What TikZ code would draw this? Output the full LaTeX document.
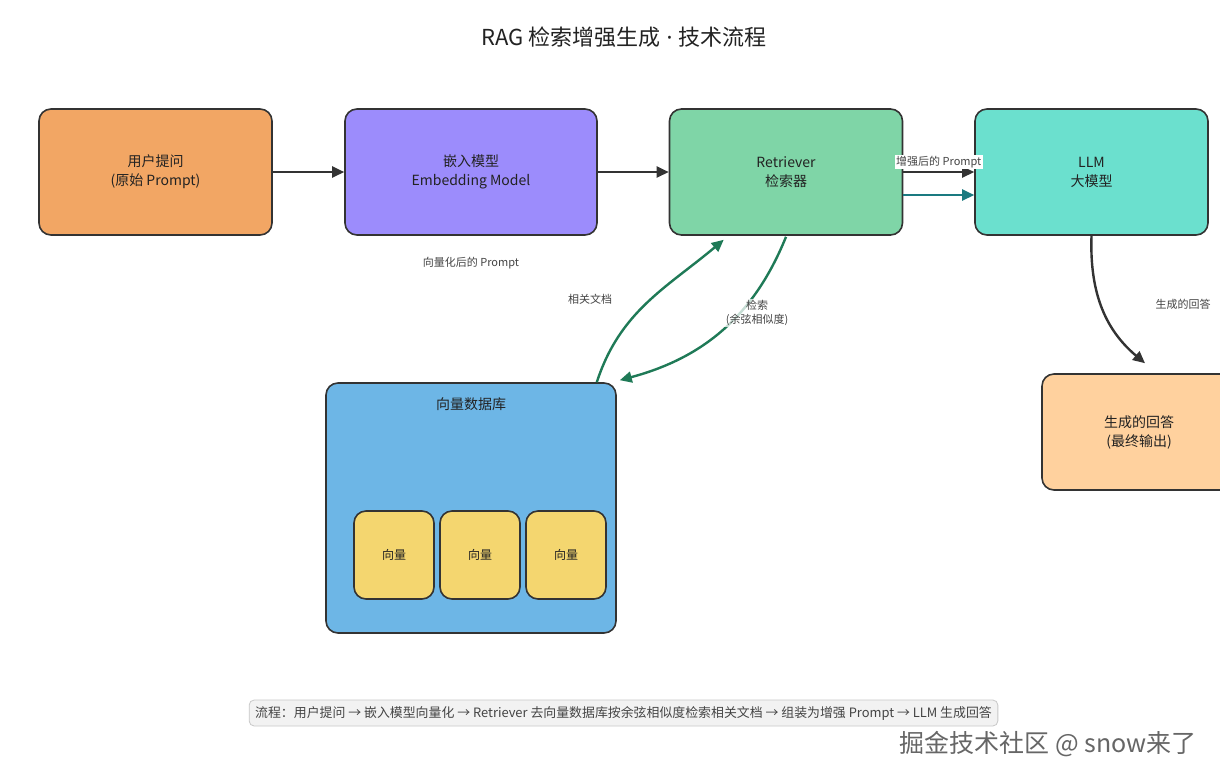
\documentclass[tikz,border=0pt]{standalone}
\usepackage{fontspec}
\setmainfont{Noto Sans CJK SC}
\newfontfamily\latinfont{Noto Sans}
\usetikzlibrary{arrows.meta}
\definecolor{askc}{HTML}{F2A664}
\definecolor{embc}{HTML}{9C8CFC}
\definecolor{retc}{HTML}{7FD5A7}
\definecolor{llmc}{HTML}{6BE0CE}
\definecolor{ansc}{HTML}{FFD19E}
\definecolor{dbc}{HTML}{6DB6E6}
\definecolor{vecc}{HTML}{F4D66F}
\definecolor{linec}{HTML}{333333}
\definecolor{textc}{HTML}{222222}
\definecolor{lblc}{HTML}{444444}
\definecolor{tealc}{HTML}{1A7A80}
\definecolor{greenc}{HTML}{1F7A57}
\definecolor{footbg}{HTML}{F2F2F2}
\definecolor{footc}{HTML}{C8C8C8}
\tikzset{
    box/.style={draw=linec, line width=1.6pt, rounded corners=12pt, minimum width=233pt, minimum height=126pt, align=center, text=textc, font=\fontsize{14}{19}\selectfont},
    vecbox/.style={draw=linec, line width=1.6pt, rounded corners=12pt, fill=vecc, minimum width=80pt, minimum height=88pt, text=textc, font=\fontsize{12}{14}\selectfont},
    flow/.style={draw=linec, line width=2.4pt, -{Triangle[length=12pt,width=11pt]}},
    tflow/.style={flow, draw=tealc},
    gflow/.style={flow, draw=greenc},
    lbl/.style={text=lblc, font=\fontsize{11}{14}\selectfont, align=center, inner sep=1.5pt}
}
\begin{document}
\begin{tikzpicture}[x=1pt,y=1pt]
    \useasboundingbox[fill=white] (0,0) rectangle (1220,-780);
    \node[text=textc, font=\fontsize{22}{26}\selectfont] (title) at (624,-37) {RAG 检索增强生成{\latinfont\ ·\ }技术流程};
    \node[box, fill=askc] (ask) at (155.5,-172) {用户提问\\(原始 Prompt)};
    \node[box, fill=embc, minimum width=252pt] (emb) at (471,-172) {嵌入模型\\Embedding Model};
    \node[box, fill=retc] (ret) at (786,-172) {Retriever\\检索器};
    \node[box, fill=llmc] (llm) at (1091.5,-172) {LLM\\大模型};
    \node[box, fill=ansc, minimum width=194pt, minimum height=116pt] (ans) at (1139,-432) {生成的回答\\(最终输出)};
    \node[box, fill=dbc, minimum width=290pt, minimum height=250pt] (db) at (471,-508) {};
    \node[text=textc, font=\fontsize{14}{17}\selectfont] (dbtitle) at (471,-404) {向量数据库};
    \foreach \x [count=\k] in {394,480,566}
        {
        \node[vecbox] (vec\k) at (\x,-555) {向量};
        }
    \draw[flow] (ask) -- (emb);
    \draw[flow] (emb) -- (ret);
    \draw[flow] (ret.east) -- node[lbl, fill=white, yshift=10pt] (lblaug) {增强后的 Prompt} (llm.west);
    \draw[tflow] ([yshift=-23pt]ret.east) -- ([yshift=-23pt]llm.west);
    \draw[gflow] ([xshift=-20pt]db.north east) to[out=72, in=-140] ([xshift=55pt, yshift=-4pt]ret.south west);
    \draw[gflow] ([yshift=-1pt]ret.south) to[out=-112, in=15] ([xshift=3pt, yshift=2pt]db.north east);
    \draw[flow] (llm.south) to[out=-92, in=140] ([xshift=6pt, yshift=10pt]ans.north);
    \node[lbl] (lblvec) at (471,-263) {向量化后的 Prompt};
    \node[lbl] (lbldoc) at (590,-299) {相关文档};
    \node[lbl, fill=white, fill opacity=0.75, text opacity=1] (lblsearch) at (757,-313) {检索\\(余弦相似度)};
    \node[lbl] (lblans) at (1183,-304) {生成的回答};
    \node[draw=footc, fill=footbg, line width=0.8pt, rounded corners=5pt, minimum height=26pt, inner xsep=6pt, text=lblc, font=\fontsize{12.9}{14}\selectfont] (foot) at (623.5,-713) {流程：用户提问 → 嵌入模型向量化 → Retriever 去向量数据库按余弦相似度检索相关文档 → 组装为增强 Prompt → LLM 生成回答};
    \node[text=black!60, font=\fontsize{25}{28}\selectfont] (mark) at (1048,-744) {掘金技术社区 @ snow来了};
\end{tikzpicture}
\end{document}
